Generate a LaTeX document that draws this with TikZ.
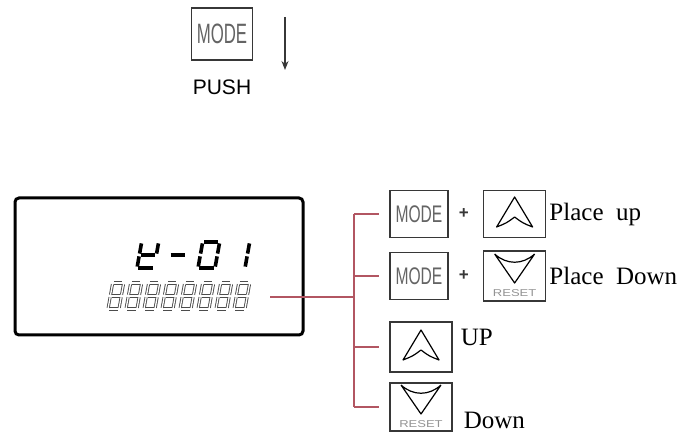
\documentclass[tikz,border=0pt]{standalone}
\usepackage{fontspec}
\setmainfont{Liberation Serif}
\newfontfamily\helv{Liberation Sans}
\usetikzlibrary{positioning,arrows.meta}
\definecolor{Wire}{RGB}{178,86,98}
\definecolor{Key}{RGB}{55,55,55}
\definecolor{Ink}{RGB}{100,100,100}

\newcommand\modetxt[2]{\scalebox{#1}[1]{\helv\fontsize{#2}{#2}\selectfont\color{Ink}MODE}}
% seven segment pieces, local units
\def\dw{17}\def\dh{26}\def\dg{1.4}
\newcommand\sgA{\draw[seg] (\dg,-\dh) -- (\dw-\dg,-\dh);}
\newcommand\sgB{\draw[seg] (\dw,-\dh+\dg) -- (\dw,-\dh/2-\dg);}
\newcommand\sgC{\draw[seg] (\dw,-\dh/2+\dg) -- (\dw,-\dg);}
\newcommand\sgD{\draw[seg] (\dg,0) -- (\dw-\dg,0);}
\newcommand\sgE{\draw[seg] (0,-\dh/2+\dg) -- (0,-\dg);}
\newcommand\sgF{\draw[seg] (0,-\dh+\dg) -- (0,-\dh/2-\dg);}
\newcommand\sgG{\draw[seg] (\dg,-\dh/2) -- (\dw-\dg,-\dh/2);}
\newcommand\segdigit[4][]{\begin{scope}[shift={(#2,#3)},xslant=.18,#1]
 \foreach \s in {#4}{\csname sg\s\endcsname}\end{scope}}
% key faces
\newcommand\upglyph[1]{\draw[gl,shift={(#1.center)}] (0,-17) -- (-18,13) .. controls (-8,9) .. (0,3) .. controls (8,9) .. (18,13) -- cycle;}
\newcommand\dnglyph[1]{\draw[gl,shift={(#1.center)}] (-20,-22) -- (0,7) -- (20,-22) (-20,-22) .. controls (-8,-11) and (8,-11) .. (20,-22)
 (0,17) node[inner sep=0pt,text=Ink!70,font=\helv\fontsize{10}{10}\selectfont] (#1r) {\scalebox{1.3}[1]{RESET}};}

\begin{document}
\begin{tikzpicture}[x=1pt,y=-1pt,node distance=10pt,
 kb/.style={draw=Key,line width=1.3pt,minimum width=58pt,minimum height=47pt,inner sep=0pt},
 wr/.style={Wire,line width=1.1pt},
 lb/.style={font=\fontsize{25}{25}\selectfont,inner sep=0pt},
 pl/.style={font=\helv\bfseries\fontsize{17}{17}\selectfont,inner sep=0pt,text=Key},
 gl/.style={line width=1.2pt,line join=round}]
\useasboundingbox (0,0) rectangle (691,435);
% push mode
\node[kb,minimum width=61pt,minimum height=52pt] (m0) at (222,34) {\modetxt{.6}{28}};
\node[below=19pt of m0,inner sep=0pt,font=\helv\fontsize{21}{21}\selectfont] (push) {PUSH};
\coordinate (a0) at (285,17); \coordinate (a1) at (285,70);
\draw[-{Stealth[length=9pt,width=7pt]},line width=1.2pt,Key] (a0) -- (a1);
% display
\node[draw,line width=3pt,rounded corners=4pt,minimum width=288pt,minimum height=137pt] (disp) at (159,266.5) {};
\segdigit[seg/.style={line width=3.6pt}]{137}{268}{B,F,G,E,D}
\segdigit[seg/.style={line width=3.6pt}]{167}{268}{G}
\segdigit[seg/.style={line width=3.6pt}]{198}{268}{A,B,C,D,E,F}
\segdigit[seg/.style={line width=3.6pt}]{228}{268}{B,C}
\def\dw{11}\def\dg{1.2}
\foreach \i in {0,...,7}
 \segdigit[seg/.style={line width=.9pt,draw=black!70,double=white,double distance=1.3pt}]{108+18*\i}{309}{A,B,C,D,E,F,G};
% keys
\node[kb] (m1) at (419,214) {\modetxt{.65}{24}};
\node[pl,right=10pt of m1] (p1) {+};
\node[kb,minimum width=62pt,right=14pt of p1] (u1) {};
\upglyph{u1}
\node[lb,right=3pt of u1] (t1) {Place\ \ up};
\node[kb] (m2) at (419,276) {\modetxt{.65}{24}};
\node[pl,right=10pt of m2] (p2) {+};
\node[kb,minimum width=62pt,minimum height=50pt,right=14pt of p2] (d2) {};
\dnglyph{d2}
\node[lb,right=3pt of d2] (t2) {Place\ \ Down};
\node[kb,minimum width=62pt,minimum height=50pt] (u3) at (421,347) {};
\upglyph{u3}
\node[lb,right=8pt of u3,yshift=10pt] (t3) {UP};
\node[kb,minimum width=62pt,minimum height=48pt] (d4) at (421,407) {};
\dnglyph{d4}
\node[lb,right=11pt of d4,yshift=-13pt] (t4) {Down};
% wires
\coordinate (tap) at (270,297);
\coordinate (bus) at (354,297);
\draw[wr] (tap) -- (bus);
\draw[wr] (m1.west -| bus) -- (d4.west -| bus);
\foreach \n in {m1,m2,u3,d4} \draw[wr,shorten >=10pt] (\n.west -| bus) -- (\n.west);
\end{tikzpicture}
\end{document}
